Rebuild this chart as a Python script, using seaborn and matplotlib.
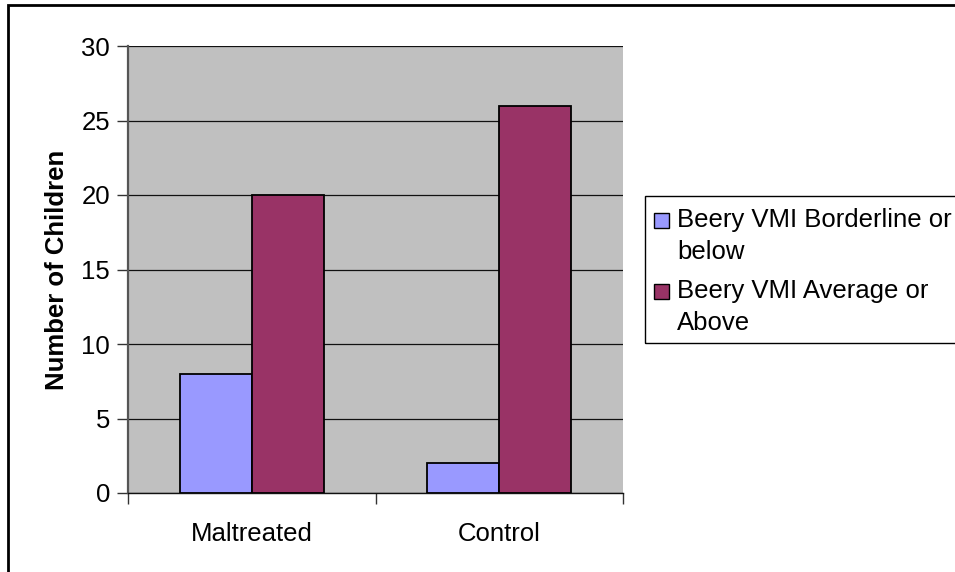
import matplotlib
matplotlib.use("Agg")
import matplotlib.pyplot as plt
from matplotlib.patches import Rectangle
from matplotlib.legend_handler import HandlerPatch
from matplotlib.ticker import FixedLocator
import seaborn as sns
import pandas as pd

groups = ["Maltreated", "Control"]
series = ["Beery VMI Borderline or below", "Beery VMI Average or Above"]
borderline = [8, 2]
average = [20, 26]
legend_labels = ["Beery VMI Borderline or\nbelow", "Beery VMI Average or\nAbove"]
y_ticks = [0, 5, 10, 15, 20, 25, 30]
colors = ["#9999FF", "#993366"]

df = pd.DataFrame({
    "group": groups * 2,
    "series": [series[0]] * 2 + [series[1]] * 2,
    "count": borderline + average,
})

sns.set_style("white")
plt.rcParams["font.family"] = ["Liberation Sans", "DejaVu Sans"]
plt.rcParams["text.color"] = "black"
plt.rcParams["axes.labelcolor"] = "black"
plt.rcParams["xtick.labelcolor"] = "black"
plt.rcParams["ytick.labelcolor"] = "black"

FS = 18.5

fig = plt.figure(figsize=(9.55, 5.72), dpi=100)
ax = fig.add_axes([128 / 955, 1 - 493 / 572, (623 - 128) / 955, (493 - 46) / 572])
ax.set_facecolor("#C0C0C0")

sns.barplot(data=df, x="group", y="count", hue="series", hue_order=series,
            palette=colors, width=0.58, edgecolor="black", linewidth=1.3,
            saturation=1, ax=ax, zorder=3)

ax.set_xlim(-0.5, 1.5)
ax.set_ylim(0, 30)
ax.set_yticks(y_ticks)
ax.yaxis.grid(True, color="#111111", linewidth=0.9, zorder=1)
ax.set_axisbelow(True)

ax.set_xlabel("")
ax.set_ylabel("Number of Children", fontsize=FS, fontweight="bold", labelpad=9)
ax.tick_params(axis="y", labelsize=FS, length=8, width=1, color="#333333",
               direction="out", pad=5, left=True)
ax.tick_params(axis="x", which="major", labelsize=FS, length=0, pad=21)
ax.xaxis.set_minor_locator(FixedLocator([-0.5, 0.5, 1.5]))
ax.tick_params(axis="x", which="minor", length=8, width=1, color="#333333",
               direction="out", bottom=True)

for side in ["top", "right"]:
    ax.spines[side].set_visible(False)
ax.spines["left"].set_color("#555555")
ax.spines["left"].set_linewidth(1.6)
ax.spines["bottom"].set_color("#111111")
ax.spines["bottom"].set_linewidth(1.0)


def top_square(legend, orig_handle, xdescent, ydescent, width, height, fontsize):
    # square key sitting beside the first line of a two-line label
    s = width
    return Rectangle((-xdescent, -ydescent + 0.62 * fontsize), s, s)


handles, _ = ax.get_legend_handles_labels()
ax.get_legend().remove()
leg = fig.legend(handles, legend_labels, loc="upper left",
                 bbox_to_anchor=(654 / 955, 1 - 208 / 572),
                 fontsize=FS, frameon=False,
                 handlelength=0.6, handleheight=0.6, handletextpad=0.3,
                 labelspacing=0.6, borderpad=0.0, borderaxespad=0,
                 handler_map={Rectangle: HandlerPatch(patch_func=top_square)})
for t in leg.get_texts():
    t.set_linespacing(1.4)
for h in leg.legend_handles:
    h.set_edgecolor("black")
    h.set_linewidth(1.0)

# legend box, running off the right edge
fig.patches.append(Rectangle((645 / 955, 1 - 343 / 572), 0.5, (343 - 196) / 572,
                             transform=fig.transFigure, fill=False,
                             edgecolor="black", linewidth=1.0, zorder=0))

# outer chart border
fig.patches.append(Rectangle((8 / 955, -0.1), 1.2, 1.1 - 5 / 572,
                             transform=fig.transFigure, fill=False,
                             edgecolor="black", linewidth=2, zorder=0))

fig.savefig("out.png", dpi=100)
